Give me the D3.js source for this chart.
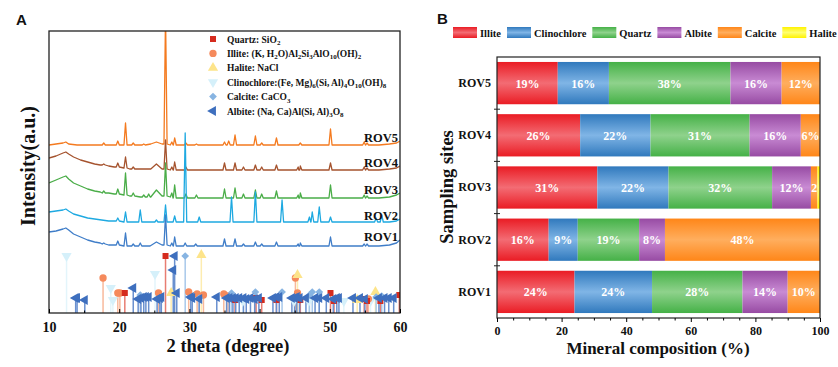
<!DOCTYPE html>
<html>
<head>
<meta charset="utf-8">
<script src="https://cdn.jsdelivr.net/npm/d3@7"></script>
<style>
  body { margin: 0; background: #fff; }
  svg { display: block; }
  text { font-family: "Liberation Serif", "Times New Roman", serif; font-weight: bold; fill: #111; }
</style>
</head>
<body>
<svg id="chart" width="838" height="367"></svg>
<script>
// ---------- Panel A: XRD patterns (2θ, intensity a.u.) ----------
const xrdSamples = ["ROV5", "ROV4", "ROV3", "ROV2", "ROV1"];

// broad background of each pattern
const rov1Base = [[10,81],[11,82],[12,84],[12.4,85],[12.8,83],[13.5,79],[14.5,76],[15.5,73],[16.5,71],[17.3,70],[18.5,68],[21.5,67],[24.4,67],[25.3,71],[26.1,68],[30.4,67],[34,67],[38,67],[44,67],[48,67],[53,67],[57,67],[58.5,68],[59.5,70],[60,73]];
const rov2Base = [[10,101],[11,102],[12,103],[12.4,104],[12.8,102],[13.5,99],[14.5,97],[15.5,95],[16.5,94],[17.5,93],[18.5,92],[21.5,91],[25,91],[30,91],[35,91],[40,91],[45,91],[50.6,91],[53,91],[56,91],[58.5,91],[59.5,92],[60,94]];
const rov3Base = [[10,130],[11,133],[12,136],[12.4,137],[12.8,134],[13.5,130],[14.5,127],[15.5,124],[16.5,122],[17.3,121],[18.5,120],[19.3,119],[21.5,117],[23,116],[24.5,116],[25.3,123],[26.1,117],[28.5,115],[32,115],[38,115],[44,115],[48,115],[53,115],[57,115],[58.5,116],[59.5,118],[60,120]];
const rov4Base = [[10,155],[11,157],[12,160],[12.4,161],[12.8,159],[13.5,156],[14.5,153],[15.5,151],[16.5,149],[17.3,148],[18.5,147],[19.3,146],[21.5,144],[23,144],[24.5,144],[25.3,149],[26.1,144],[28.5,143],[32,143],[38,143],[44,143],[48,143],[53,143],[57,143],[58.5,144],[59.5,145],[60,147]];
const rov5Base = [[10,168],[11,169],[12,170],[12.4,171],[12.8,169],[14,168],[17,168],[19.3,168],[22.5,168],[24.5,169],[25.3,171],[26.1,169],[28.5,168],[33,168],[38,168],[44,168],[48,168],[53,168],[57,168],[58.5,169],[59.5,170],[60,172]];

// reflections: [2θ, top, foot]
const rov1Peaks = [[17.8,70,69],[19.8,72,68],[20.9,80,67],[22.0,69,67],[23.0,70,67],[26.6,98,68],[27.5,70,67],[27.9,76,67],[29.4,70,67],[30.9,69,67],[35.0,74,67],[36.5,74,67],[37.7,69,67],[39.4,71,67],[40.3,69,67],[42.4,71,67],[45.5,69,67],[45.8,70,67],[50.1,76,67],[54.9,69,67],[55.3,69,67]];
const rov2Peaks = [[19.8,95,92],[20.9,101,91],[23.0,103,91],[25.3,93,91],[26.6,108,91],[27.9,97,91],[29.4,180,91],[31.4,96,91],[36.0,116,91],[39.4,121,91],[43.2,113,91],[47.1,96,91],[47.5,101,91],[48.5,106,91],[50.1,96,91],[56.6,95,91],[57.4,98,91]];
const rov3Peaks = [[17.8,122,120],[19.8,124,119],[20.9,140,118],[22.0,120,117],[23.5,118,116],[24.2,119,116],[26.6,150,117],[27.5,120,116],[27.9,128,115],[29.5,119,115],[31.0,118,115],[35.0,124,115],[36.5,125,115],[37.7,119,115],[39.4,123,115],[40.3,119,115],[42.4,122,115],[45.5,118,115],[45.8,120,115],[50.1,128,115],[54.9,118,115],[55.3,117,115]];
const rov4Peaks = [[17.8,149,148],[19.8,150,146],[20.9,156,145],[22.0,146,144],[26.6,173,144],[27.5,146,143],[27.9,151,143],[29.5,146,143],[35.0,150,143],[36.5,150,143],[37.7,146,143],[39.4,148,143],[40.3,146,143],[42.4,148,143],[45.5,146,143],[45.8,147,143],[50.1,150,143],[54.9,146,143],[55.3,145,143]];
const rov5Peaks = [[17.8,170,168],[19.8,172,168],[20.9,190,168],[22.0,170,168],[23.5,169,168],[26.6,300,169],[27.5,171,168],[27.9,175,168],[29.5,170,168],[31.0,169,168],[35.0,171,168],[35.6,172,168],[36.5,178,168],[39.4,177,168],[40.3,170,168],[42.4,175,168],[45.8,170,168],[50.1,184,168],[54.9,171,168],[55.3,170,168]];

// standard reference patterns: [2θ, relative height]
const quartzRef = [[20.8,20],[26.6,57],[36.5,13],[39.5,15],[40.3,13],[42.4,13],[45.8,13],[50.1,20],[50.6,12],[54.9,14],[55.3,12],[57.2,12],[59.9,18]];
const illiteRef = [[17.7,35],[19.8,20],[20.1,20],[25.6,20],[29.9,21],[31.1,19],[32.0,18],[34.9,19],[35.5,17],[45.1,35],[45.4,20],[55.5,14]];
const haliteRef = [[27.4,20],[31.7,58],[45.4,38],[53.9,13],[56.5,21]];
const clinochloreRef = [[12.5,57],[18.8,25],[19.1,13],[25.1,39],[37.6,12],[44.9,12],[47.0,12],[52.0,12],[55.8,12]];
const calciteRef = [[23.0,18],[29.4,57],[31.4,15],[36.0,20],[39.4,21],[43.2,21],[47.1,18],[47.5,21],[48.5,21],[56.6,16],[57.4,17]];
const albiteRef = [[13.8,15],[14.0,15],[15.1,13],[22.0,25],[22.7,14],[23.1,15],[23.5,16],[23.8,16],[24.2,16],[25.4,14],[25.8,15],[26.0,16],[27.7,43],[27.9,57],[28.2,20],[30.2,16],[30.4,15],[31.4,14],[33.9,16],[35.3,15],[35.7,15],[36.2,15],[36.6,15],[37.1,15],[37.7,15],[38.1,14],[38.7,15],[39.3,14],[39.9,15],[41.9,15],[42.4,16],[42.8,16],[44.6,15],[45.0,15],[45.3,16],[45.7,15],[46.6,15],[47.9,15],[48.5,15],[49.5,15],[50.5,14],[51.0,15],[51.3,15],[53.3,15],[54.3,15],[55.0,14],[57.0,15],[57.8,15],[58.4,15],[59.1,15]];

const phaseNames = ["Quartz: SiO{2}", "Illite: (K, H{2}O)Al{2}Si{3}AlO{10}(OH){2}", "Halite: NaCl",
  "Clinochlore:(Fe, Mg){6}(Si, Al){4}O{10}(OH){8}", "Calcite: CaCO{3}", "Albite: (Na, Ca)Al(Si, Al){3}O{8}"];
const xTicksA = [10, 20, 30, 40, 50, 60];

// ---------- Panel B: mineral composition (%) ----------
const sites = ["ROV5", "ROV4", "ROV3", "ROV2", "ROV1"];
const minerals = ["Illite", "Clinochlore", "Quartz", "Albite", "Calcite", "Halite"];
const illitePct      = [19, 26, 31, 16, 24];
const clinochlorePct = [16, 22, 22, 9, 24];
const quartzPct      = [38, 31, 32, 19, 28];
const albitePct      = [16, 16, 12, 8, 14];
const calcitePct     = [12, 6, 2, 48, 10];
const halitePct      = [0, 0, 0.8, 0, 0];
const xTicksB = [0, 20, 40, 60, 80, 100];

// ---------- drawing ----------
const svg = d3.select("#chart");
const defs = svg.append("defs");

const sampleColor = { ROV1: "#3f7dc8", ROV2: "#1ea9e1", ROV3: "#4aad48", ROV4: "#a5532e", ROV5: "#f47a1f" };
const sampleData = {
  ROV1: [rov1Base, rov1Peaks], ROV2: [rov2Base, rov2Peaks], ROV3: [rov3Base, rov3Peaks],
  ROV4: [rov4Base, rov4Peaks], ROV5: [rov5Base, rov5Peaks]
};

const xA = d3.scaleLinear().domain([10, 60]).range([49, 400]);
const yA = d3.scaleLinear().domain([0, 282]).range([313, 31]);

defs.append("clipPath").attr("id", "clipA").append("rect")
  .attr("x", 49).attr("y", 31).attr("width", 351).attr("height", 282);

const gA = svg.append("g").attr("clip-path", "url(#clipA)");

// merge background and reflections into one ordered profile
function profile(base, peaks, w) {
  const pts = base.filter(([t]) => !peaks.some(p => Math.abs(p[0] - t) < w + 0.05));
  peaks.forEach(([t, top, foot]) => pts.push([t - w, foot], [t, top], [t + w, foot]));
  return pts.sort((a, b) => a[0] - b[0]);
}

const line = d3.line().x(d => xA(d[0])).y(d => yA(d[1]));

xrdSamples.forEach(s => {
  const [base, peaks] = sampleData[s];
  const pts = profile(base, peaks, 0.22);
  gA.append("path").datum(pts)
    .attr("d", line)
    .attr("fill", "none")
    .attr("stroke", sampleColor[s])
    .attr("stroke-width", 1.3)
    .attr("stroke-linejoin", "round");
  const last = pts[pts.length - 1];
  svg.append("text")
    .attr("x", 398).attr("y", yA(last[1]) + 1)
    .attr("text-anchor", "end")
    .style("font-size", "12.5px")
    .text(s);
});

// reference sticks
const tri = d3.symbolTriangle;
const phases = [
  { data: clinochloreRef, type: tri, rot: 180, fill: "#d5f0fa", stick: "#e3f5fb", size: 45 },
  { data: illiteRef, type: d3.symbolCircle, rot: 0, fill: "#f58a5c", stick: "#f8b99c", size: 42 },
  { data: haliteRef, type: tri, rot: 0, fill: "#fde48a", stick: "#fdecb0", size: 45 },
  { data: calciteRef, type: d3.symbolSquare, rot: 45, fill: "#87b4e2", stick: "#a8c8ea", size: 30 },
  { data: quartzRef, type: d3.symbolSquare, rot: 0, fill: "#d52b1e", stick: "#e87d72", size: 36 },
  { data: albiteRef, type: tri, rot: -90, fill: "#3e6fbe", stick: "#6a90cf", size: 45 }
];
phases.forEach(p => {
  gA.append("g").selectAll("line").data(p.data).join("line")
    .attr("x1", d => xA(d[0])).attr("x2", d => xA(d[0]))
    .attr("y1", yA(0)).attr("y2", d => yA(d[1]))
    .attr("stroke", p.stick).attr("stroke-width", 1.5);
});
phases.forEach(p => {
  gA.append("g").selectAll("path").data(p.data).join("path")
    .attr("d", d3.symbol(p.type, p.size))
    .attr("transform", d => `translate(${xA(d[0])},${yA(d[1])}) rotate(${p.rot})`)
    .attr("fill", p.fill);
});

// legend A (order: quartz, illite, halite, clinochlore, calcite, albite)
const legendOrder = [4, 1, 2, 0, 3, 5];
function subText(sel, str) {
  let shifted = false;
  str.split(/(\{[^}]*\})/).filter(t => t).forEach(t => {
    if (t[0] === "{") {
      sel.append("tspan").attr("dy", 2.5).style("font-size", "7px").text(t.slice(1, -1));
      shifted = true;
    } else {
      sel.append("tspan").attr("dy", shifted ? -2.5 : 0).text(t);
      shifted = false;
    }
  });
}
legendOrder.forEach((pi, i) => {
  const p = phases[pi];
  const cy = 39 + i * 14.4;
  svg.append("path")
    .attr("d", d3.symbol(p.type, p.size))
    .attr("transform", `translate(213,${cy}) rotate(${p.rot})`)
    .attr("fill", p.fill);
  const t = svg.append("text").attr("x", 227).attr("y", cy + 3.5).style("font-size", "9.5px");
  subText(t, phaseNames[i]);
});

// frame + axis A
svg.append("rect").attr("x", 49).attr("y", 31).attr("width", 351).attr("height", 282)
  .attr("fill", "none").attr("stroke", "#222").attr("stroke-width", 1.3);

const axA = svg.append("g").attr("transform", "translate(0,313)")
  .call(d3.axisBottom(xA).tickValues(xTicksA).tickSizeInner(-4).tickSizeOuter(0).tickPadding(9));
axA.select(".domain").remove();
axA.selectAll("text").style("font-size", "14px").style("font-family", null);
const axAm = svg.append("g").attr("transform", "translate(0,313)")
  .call(d3.axisBottom(xA).tickValues([15, 25, 35, 45, 55]).tickSizeInner(-2.5).tickSizeOuter(0).tickFormat(""));
axAm.select(".domain").remove();

svg.append("text").attr("x", 228).attr("y", 352).attr("text-anchor", "middle")
  .style("font-size", "18.5px").text("2 theta (degree)");
svg.append("text").attr("transform", "translate(35,166) rotate(-90)").attr("text-anchor", "middle")
  .style("font-size", "20px").text("Intensity(a.u.)");
svg.append("text").attr("x", 16).attr("y", 25)
  .style("font-family", "'Liberation Sans', Arial, sans-serif").style("font-size", "15px").text("A");
svg.append("text").attr("x", 437).attr("y", 24)
  .style("font-family", "'Liberation Sans', Arial, sans-serif").style("font-size", "15px").text("B");

// ---------- Panel B ----------
const pct = { Illite: illitePct, Clinochlore: clinochlorePct, Quartz: quartzPct,
  Albite: albitePct, Calcite: calcitePct, Halite: halitePct };
const rows = sites.map((s, i) => {
  const r = { site: s };
  minerals.forEach(m => r[m] = pct[m][i]);
  return r;
});
const series = d3.stack().keys(minerals).offset(d3.stackOffsetExpand)(rows);

const mineralColor = {
  Illite: ["#ea1c24", "#f36c74"], Clinochlore: ["#3079bd", "#80b5e6"], Quartz: ["#45b147", "#8fd28c"],
  Albite: ["#974ba3", "#c98bd4"], Calcite: ["#ff8618", "#ffae5e"], Halite: ["#fff200", "#ffff70"]
};
minerals.forEach(m => {
  const g = defs.append("linearGradient").attr("id", "grad-" + m)
    .attr("x1", 0).attr("y1", 0).attr("x2", 0).attr("y2", 1);
  g.append("stop").attr("offset", "0%").attr("stop-color", mineralColor[m][0]);
  g.append("stop").attr("offset", "50%").attr("stop-color", mineralColor[m][1]);
  g.append("stop").attr("offset", "100%").attr("stop-color", mineralColor[m][0]);
});

const xB = d3.scaleLinear().domain([0, 100]).range([497, 820]);
const yB = d3.scaleBand().domain(sites).range([57, 318]).paddingInner(0.19).paddingOuter(0.095);

defs.append("clipPath").attr("id", "clipB").append("rect")
  .attr("x", 497).attr("y", 57).attr("width", 323).attr("height", 261);
const gB = svg.append("g").attr("clip-path", "url(#clipB)");

series.forEach(sr => {
  const m = sr.key;
  gB.append("g").selectAll("rect").data(sr).join("rect")
    .attr("x", d => xB(d[0] * 100))
    .attr("width", d => xB(d[1] * 100) - xB(d[0] * 100))
    .attr("y", d => yB(d.data.site))
    .attr("height", yB.bandwidth())
    .attr("fill", `url(#grad-${m})`);
  gB.append("g").selectAll("text").data(sr.filter(d => d.data[m] >= 2)).join("text")
    .attr("x", d => xB((d[0] + d[1]) * 50) + (d.data[m] < 3 ? 6 : 0))
    .attr("y", d => yB(d.data.site) + yB.bandwidth() / 2 + 4.5)
    .attr("text-anchor", "middle")
    .style("font-size", "12px").style("fill", "#fff")
    .text(d => d.data[m] + "%");
});

svg.append("rect").attr("x", 497).attr("y", 57).attr("width", 323).attr("height", 261)
  .attr("fill", "none").attr("stroke", "#222").attr("stroke-width", 1.2);

// category labels and separator ticks
const axBy = svg.append("g").attr("transform", "translate(497,0)")
  .call(d3.axisLeft(yB).tickSize(0).tickPadding(6));
axBy.select(".domain").remove();
axBy.selectAll("text").style("font-size", "12px").style("font-family", null);
const gap = yB.step() * yB.paddingInner() / 2;
svg.append("g").selectAll("line").data(sites.slice(1)).join("line")
  .attr("x1", 494).attr("x2", 500)
  .attr("y1", d => yB(d) - gap).attr("y2", d => yB(d) - gap)
  .attr("stroke", "#222").attr("stroke-width", 1);

const axBx = svg.append("g").attr("transform", "translate(0,318)")
  .call(d3.axisBottom(xB).tickValues(xTicksB).tickSizeInner(4).tickSizeOuter(0).tickPadding(4));
axBx.select(".domain").remove();
axBx.selectAll("text").style("font-size", "12px").style("font-family", null);
const axBm = svg.append("g").attr("transform", "translate(0,318)")
  .call(d3.axisBottom(xB).tickValues(d3.range(5, 100, 5).filter(v => v % 20)).tickSizeInner(2.5).tickSizeOuter(0).tickFormat(""));
axBm.select(".domain").remove();

svg.append("text").attr("x", 658).attr("y", 354).attr("text-anchor", "middle")
  .style("font-size", "17px").text("Mineral composition (%)");
svg.append("text").attr("transform", "translate(453,187) rotate(-90)").attr("text-anchor", "middle")
  .style("font-size", "18.5px").text("Sampling sites");

// legend B
let lx = 453;
minerals.forEach(m => {
  svg.append("rect").attr("x", lx).attr("y", 27).attr("width", 24).attr("height", 11)
    .attr("fill", `url(#grad-${m})`);
  const t = svg.append("text").attr("x", lx + 27).attr("y", 36.5)
    .style("font-size", "10.5px").text(m);
  lx += 27 + t.node().getComputedTextLength() + 6;
});
</script>
</body>
</html>
